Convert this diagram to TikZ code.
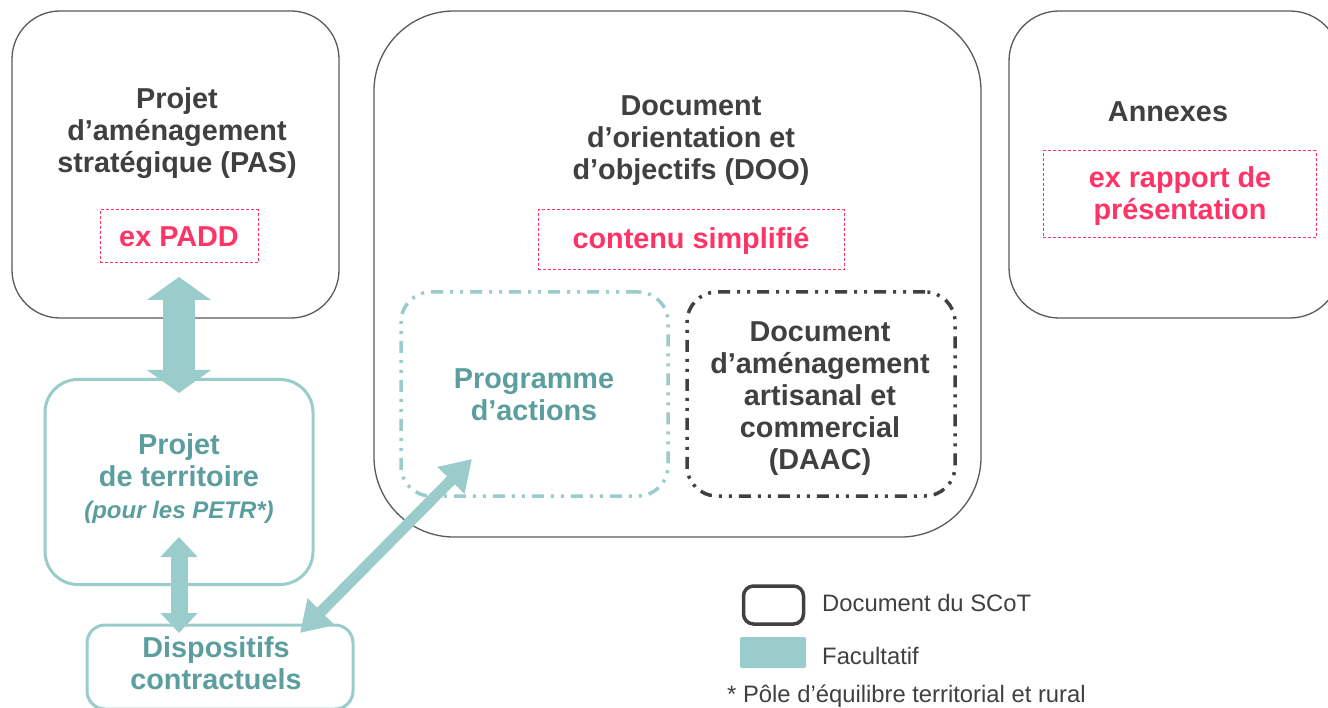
\documentclass[tikz,border=0pt]{standalone}
\usepackage{fontspec}
\setmainfont{Liberation Sans}
\usetikzlibrary{arrows.meta}
\definecolor{tealfill}{HTML}{9ACCCC}
\definecolor{tealtxt}{HTML}{5C9E9E}
\definecolor{darktxt}{HTML}{404040}
\definecolor{pinkred}{HTML}{FF3366}
\definecolor{outlinegray}{HTML}{5A5A5A}
\begin{document}
\begin{tikzpicture}[x=1pt,y=-1pt,
  box/.style={rectangle,inner sep=0pt,outer sep=0pt},
  docbox/.style={box,draw=outlinegray,line width=1.3pt},
  tealbox/.style={box,draw=tealfill,line width=3pt},
  dashdotbox/.style={box,line width=3.5pt,rounded corners=30pt,
     dash pattern=on 12pt off 7pt on 3pt off 7pt on 3pt off 7pt},
  redbox/.style={box,draw=pinkred,line width=1pt,dash pattern=on 3pt off 2pt},
  big/.style={font=\fontsize{28.8}{32}\selectfont\bfseries,align=center,inner sep=0pt},
  redtxt/.style={big,text=pinkred},
  darkt/.style={big,text=darktxt},
  tealt/.style={big,text=tealtxt},
  legtxt/.style={font=\fontsize{23.8}{27}\selectfont,text=darktxt,inner sep=0pt,anchor=west},
  fatarrow/.style={draw=tealfill,line width=32pt,
     {Triangle[length=23pt,width=63pt]}-{Triangle[length=23pt,width=63pt]}},
  midarrow/.style={draw=tealfill,line width=17pt,
     {Triangle[length=20pt,width=36pt]}-{Triangle[length=20pt,width=36pt]}},
  thinarrow/.style={draw=tealfill,line width=11pt,
     {Triangle[length=30pt,width=36pt]}-{Triangle[length=30pt,width=36pt]}}
]
\useasboundingbox (0,0) rectangle (1328,708);
\clip (0,0) rectangle (1328,708);
\fill[white] (0,0) rectangle (1328,708);

% main boxes
\node[docbox,rounded corners=48pt,minimum width=327pt,minimum height=307pt] (pas) at (175.5,164.5) {};
\node[docbox,rounded corners=80pt,minimum width=607pt,minimum height=526pt] (doo) at (677.5,274) {};
\node[docbox,rounded corners=50pt,minimum width=331pt,minimum height=307pt] (annex) at (1174.5,164.5) {};

% PAS
\node[darkt] (pastxt) at (177,133) {Projet\\d’aménagement\\stratégique (PAS)};
\node[redbox,minimum width=158pt,minimum height=53pt] (paddbox) at (179,236.5) {};
\node[redtxt] (padd) at (179,237) {ex PADD};

% DOO
\node[darkt] (dootxt) at (691,141) {Document\\d’orientation et\\d’objectifs (DOO)};
\node[redbox,minimum width=306pt,minimum height=60pt] (simpbox) at (691,240) {};
\node[redtxt] (simp) at (691,241) {contenu simplifié};

% Annexes
\node[darkt] (annextxt) at (1168,112) {Annexes};
\node[redbox,minimum width=273pt,minimum height=87pt] (rapbox) at (1179.5,194.5) {};
\node[redtxt] (rap) at (1180,196) {ex rapport de\\présentation};

% inner dash-dot boxes
\node[dashdotbox,draw=tealfill,minimum width=267pt,minimum height=204pt] (prog) at (534.5,394) {};
\node[tealt] (progtxt) at (534,394.5) {Programme\\d’actions};
\node[dashdotbox,draw=darktxt,minimum width=268pt,minimum height=204pt] (daac) at (821,394) {};
\node[darkt] (daactxt) at (820,399) {Document\\d’aménagement\\artisanal et\\commercial\\(DAAC)};

% left teal boxes
\node[tealbox,rounded corners=33pt,minimum width=268pt,minimum height=205pt] (pdt) at (179,482) {};
\node[tealt] (pdttxt) at (179,479) {Projet\\de territoire\\{\fontsize{24}{24}\selectfont\bfseries\itshape (pour les PETR*)}};
\node[tealbox,rounded corners=18pt,minimum width=266pt,minimum height=84pt] (disp) at (220,667) {};
\node[tealt] (disptxt) at (216,663.5) {Dispositifs\\contractuels};

% arrows
\coordinate (a1top) at (179,277);
\coordinate (a1bot) at (179,393);
\draw[fatarrow] (a1top) -- (a1bot);
\coordinate (a2top) at (179,537);
\coordinate (a2bot) at (179,633);
\draw[midarrow] (a2top) -- (a2bot);
\coordinate (a3top) at (472,459);
\coordinate (a3bot) at (300,633);
\draw[thinarrow] (a3bot) -- (a3top);

% legend
\node[box,draw=darktxt,line width=3.5pt,rounded corners=10pt,minimum width=60pt,minimum height=38pt] (leg1) at (773.5,605) {};
\node[legtxt] (leg1txt) at (822,603) {Document du SCoT};
\node[box,fill=tealfill,rounded corners=2pt,minimum width=66pt,minimum height=31pt] (leg2) at (773,652.5) {};
\node[legtxt] (leg2txt) at (822,656) {Facultatif};
\node[legtxt] (foot) at (727,696) {* Pôle d’équilibre territorial et rural};
\end{tikzpicture}
\end{document}
